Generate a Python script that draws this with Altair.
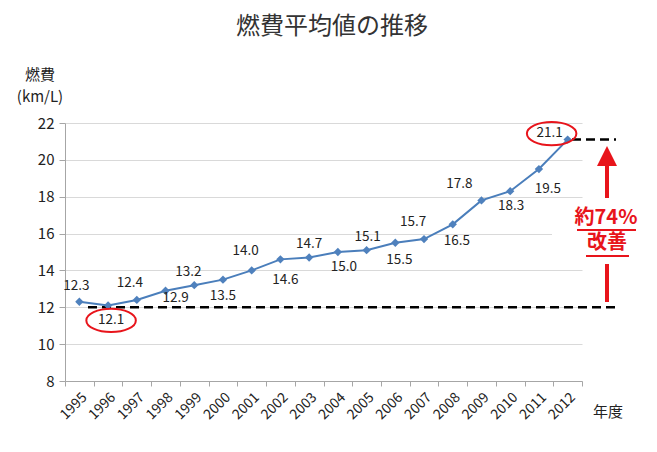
import altair as alt
import pandas as pd

# ---- data ----
years = [str(y) for y in range(1995, 2013)]
values = [12.3, 12.1, 12.4, 12.9, 13.2, 13.5, 14.0, 14.6, 14.7, 15.0,
          15.1, 15.5, 15.7, 16.5, 17.8, 18.3, 19.5, 21.1]
labels = ["12.3", "12.1", "12.4", "12.9", "13.2", "13.5", "14.0", "14.6", "14.7",
          "15.0", "15.1", "15.5", "15.7", "16.5", "17.8", "18.3", "19.5", "21.1"]
y_ticks = [8, 10, 12, 14, 16, 18, 20, 22]
baseline_value = 12
latest_value = 21.1
circled_years = ["1996", "2012"]

# ---- label nudges in pixels (layout only) ----
label_dx = [-3, 3, -7, 10, -6, 0, -6, 5, 0, 6, 1, 4, -11, 4, -22, 1, 9, -18]
label_dy = [-16, 15, -17, 7, -13, 16, -19, 21, -14, 15, -13, 17, -17, 17, -16, 15, 20, -7]

df = pd.DataFrame({"year": years, "value": values, "label": labels,
                   "dx": label_dx, "dy": label_dy})

FONT = "Noto Sans CJK JP"
TXT = "#222222"
RED = "#E8141B"
OX, OY = 65, 123  # plot origin on page
W, H = 517, 258
HALF_BAND = W / len(years) / 2
PX_PER_UNIT = H / (22 - 8)


def px(x):
    return x - OX


def py(y):
    return y - OY


xscale = alt.Scale(type="band", paddingInner=0, paddingOuter=0)
xaxis = alt.Axis(title=None, labelAngle=-45, tickBand="extent", grid=False,
                 labelFontSize=14, labelColor=TXT, labelFont=FONT,
                 domainColor="#A6A6A6", tickColor="#A6A6A6", tickSize=5,
                 labelPadding=4)
xenc = alt.X("year:O", bandPosition=0.5, scale=xscale, axis=xaxis)
xenc_off = alt.X("year:O", scale=xscale, axis=xaxis)
yscale = alt.Scale(domain=[8, 22], nice=False, zero=False)
yaxis = alt.Axis(title=None, values=y_ticks, grid=True, gridColor="#D9D9D9",
                 domainColor="#A6A6A6", tickColor="#A6A6A6", tickSize=6,
                 labelFontSize=15, labelColor=TXT, labelFont=FONT,
                 labelPadding=5, labelOverlap=False)
yenc = alt.Y("value:Q", scale=yscale, axis=yaxis)

base = alt.Chart(df)

line = base.mark_line(color="#4A7EBB", strokeWidth=2).encode(x=xenc, y=yenc)
pts = base.mark_point(shape="diamond", filled=True, size=70, color="#4F81BD",
                      opacity=1).encode(x=xenc, y=yenc)

one = pd.DataFrame({"a": [0]})


def note(text, x, y, size=14, color=TXT, weight="normal", align="center"):
    return alt.Chart(one).mark_text(text=text, font=FONT, fontSize=size, color=color,
                                    fontWeight=weight, align=align,
                                    baseline="middle").encode(
        x=alt.value(px(x)), y=alt.value(py(y)))


# white box behind improvement text
box = alt.Chart(one).mark_rect(color="white").encode(
    x=alt.value(px(552)), x2=alt.value(px(640)),
    y=alt.value(py(205)), y2=alt.value(py(262)))

dash1 = alt.Chart(one).mark_rule(color="black", strokeWidth=2.5, strokeDash=[9, 5]).encode(
    y=alt.Y(datum=baseline_value, type="quantitative", scale=yscale, axis=yaxis),
    x=alt.value(px(88)), x2=alt.value(px(616)))
dash2 = alt.Chart(one).mark_rule(color="black", strokeWidth=2.5, strokeDash=[9, 5]).encode(
    y=alt.Y(datum=latest_value, type="quantitative", scale=yscale, axis=yaxis),
    x=alt.value(px(572)), x2=alt.value(px(616)))

texts = base.transform_calculate(
    value=f"datum.value - datum.dy / {PX_PER_UNIT}",
    lx=f"datum.dx + {HALF_BAND}",
).mark_text(font=FONT, fontSize=13.5, color=TXT, baseline="middle").encode(
    x=xenc_off, y=yenc, text="label:N",
    xOffset=alt.XOffset("lx:Q", scale=None))

ellipse_path = "M-1,0A1,0.47 0 1,0 1,0A1,0.47 0 1,0 -1,0Z"
circ = pd.DataFrame({"year": circled_years,
                     "value": [values[years.index(y)] for y in circled_years],
                     "ox": [3, -16], "oy": [15, -6]})
ellipses = alt.Chart(circ).transform_calculate(
    value=f"datum.value - datum.oy / {PX_PER_UNIT}",
    lx=f"datum.ox + {HALF_BAND}",
).mark_point(shape=ellipse_path, size=2450, filled=False,
             color=RED, strokeWidth=2, opacity=1).encode(
    x=xenc_off, y=yenc,
    xOffset=alt.XOffset("lx:Q", scale=None))

shaft_up = alt.Chart(one).mark_rule(color=RED, strokeWidth=4).encode(
    x=alt.value(px(607)), y=alt.value(py(160)), y2=alt.value(py(198)))
head = alt.Chart(one).mark_point(shape="M0,-1L1,1L-1,1Z", size=400, filled=True,
                                 color=RED, opacity=1).encode(
    x=alt.value(px(607)), y=alt.value(py(156)))
shaft_down = alt.Chart(one).mark_rule(color=RED, strokeWidth=4).encode(
    x=alt.value(px(607)), y=alt.value(py(264)), y2=alt.value(py(302)))
ul1 = alt.Chart(one).mark_rule(color=RED, strokeWidth=2).encode(
    x=alt.value(px(577)), x2=alt.value(px(636)), y=alt.value(py(230)))
ul2 = alt.Chart(one).mark_rule(color=RED, strokeWidth=2).encode(
    x=alt.value(px(586)), x2=alt.value(px(629)), y=alt.value(py(256)))

chart = alt.layer(
    box, dash1, dash2, line, pts, texts, ellipses,
    shaft_up, head, shaft_down, ul1, ul2,
    note("約74%", 606, 218, size=20, color=RED, weight="bold"),
    note("改善", 607, 243, size=20, color=RED, weight="bold"),
    note("燃費平均値の推移", 332, 27, size=24, color="#333333"),
    note("燃費", 40, 75, size=15),
    note("(km/L)", 40, 97, size=15),
    note("年度", 608, 412, size=15),
).properties(
    width=W, height=H,
    autosize=alt.AutoSizeParams(type="none"),
    padding={"left": 57, "top": 115, "right": 67, "bottom": 63},
    background="white",
).configure_view(stroke=None)

chart.save("out.html", embed_options={"renderer": "svg", "actions": False})
